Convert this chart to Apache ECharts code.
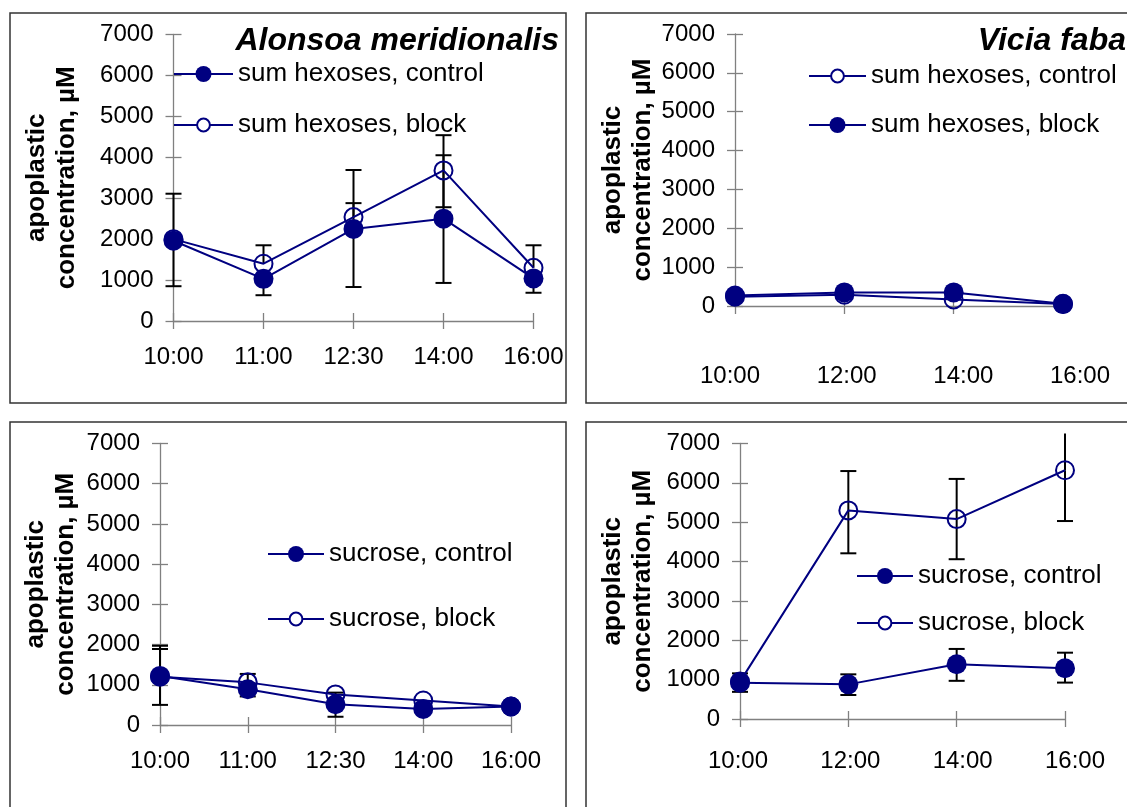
<!DOCTYPE html>
<html>
<head>
<meta charset="utf-8">
<title>Apoplastic sugar concentrations</title>
<script src="https://cdn.jsdelivr.net/npm/echarts@6/dist/echarts.min.js"></script>
<style>
  html, body { margin: 0; padding: 0; background: #fff; overflow: hidden; width: 1127px; height: 807px; }
  .chart { position: absolute; left: 0; top: 0; width: 1127px; height: 807px; }
</style>
</head>
<body>
<div id="p1" class="chart"></div>
<div id="p2" class="chart"></div>
<div id="p3" class="chart"></div>
<div id="p4" class="chart"></div>
<script>
// ---- data -------------------------------------------------------------
const timesAlonsoa = ['10:00', '11:00', '12:30', '14:00', '16:00'];
const timesVicia = ['10:00', '12:00', '14:00', '16:00'];
const yTicks = [0, 1000, 2000, 3000, 4000, 5000, 6000, 7000];

// Alonsoa meridionalis, sum hexoses (µM)
const amHexControl = [1960, 1030, 2250, 2500, 1040];
const amHexControlPlus = [1150, 0, 1440, 1550, 0];
const amHexControlMinus = [1110, 400, 1420, 1570, 350];
const amHexBlock = [2000, 1400, 2540, 3680, 1300];
const amHexBlockPlus = [0, 450, 340, 860, 550];
const amHexBlockMinus = [0, 0, 0, 900, 0];

// Vicia faba, sum hexoses (µM)
const vfHexControl = [240, 290, 170, 50];
const vfHexBlock = [270, 350, 350, 55];

// Alonsoa meridionalis, sucrose (µM)
const amSucControl = [1220, 890, 515, 400, 460];
const amSucControlPlus = [750, 0, 290, 0, 0];
const amSucControlMinus = [720, 180, 310, 0, 0];
const amSucBlock = [1200, 1060, 760, 610, 460];
const amSucBlockPlus = [690, 210, 0, 0, 0];
const amSucBlockMinus = [0, 0, 0, 0, 0];

// Vicia faba, sucrose (µM)
const vfSucControl = [920, 880, 1390, 1290];
const vfSucControlPlus = [240, 255, 390, 395];
const vfSucControlMinus = [230, 270, 420, 365];
const vfSucBlock = [950, 5300, 5080, 6320];
const vfSucBlockPlus = [0, 1000, 1020, 1290];
const vfSucBlockMinus = [0, 1090, 1020, 1290];

// ---- styling ------------------------------------------------------------
const NAVY = '#000080';
const FONT = '"Liberation Sans", Arial, Helvetica, sans-serif';
const AXIS_GRAY = '#808080';
const Y_NAME = 'apoplastic\nconcentration, µM';
const ROW_H = 28;

// cfg.labelSpan (optional): a separate, wider strip that carries the time labels
function makeAxes(cfg) {
  const tickStyle = { color: AXIS_GRAY, width: 1.3 };
  const labelStyle = { show: true, interval: 0, margin: cfg.labelMargin, fontSize: 24, fontFamily: FONT, color: '#000' };
  const ownLabels = !cfg.labelSpan;
  const xBase = {
    type: 'category', data: cfg.cats, boundaryGap: false, position: 'bottom',
    gridIndex: 0, splitLine: { show: false }
  };
  const yBase = {
    type: 'value', position: 'left', gridIndex: 0,
    min: yTicks[0], max: yTicks[yTicks.length - 1], interval: yTicks[1] - yTicks[0],
    splitLine: { show: false }
  };
  const xAxis = [
    Object.assign({}, xBase, {
      axisLine: { show: true, onZero: false, lineStyle: tickStyle },
      axisTick: { show: true, length: 8, lineStyle: tickStyle },
      axisLabel: ownLabels ? labelStyle : { show: false }
    }),
    Object.assign({}, xBase, {
      axisLine: { show: false },
      axisTick: { show: true, inside: true, length: 8, lineStyle: tickStyle },
      axisLabel: { show: false }
    })
  ];
  const yAxis = [
    Object.assign({}, yBase, {
      axisLine: { show: true, onZero: false, lineStyle: tickStyle },
      axisTick: { show: true, length: 8, lineStyle: tickStyle },
      axisLabel: { show: true, margin: 20, fontSize: 24, fontFamily: FONT, color: '#000',
                   formatter: v => String(v) },
      name: Y_NAME, nameLocation: 'middle', nameRotate: 90, nameGap: cfg.nameGap,
      nameTextStyle: { fontSize: 26, fontWeight: 'bold', fontFamily: FONT, color: '#000', lineHeight: 30 }
    }),
    Object.assign({}, yBase, {
      axisLine: { show: false },
      axisTick: { show: true, inside: true, length: 8, lineStyle: tickStyle },
      axisLabel: { show: false }
    })
  ];
  const grids = [Object.assign({ containLabel: false, outerBoundsMode: 'none' }, cfg.grid)];
  if (!ownLabels) {
    grids.push(Object.assign({ containLabel: false, outerBoundsMode: 'none' }, cfg.grid, cfg.labelSpan));
    xAxis.push(Object.assign({}, xBase, {
      gridIndex: 1, axisLine: { show: false }, axisTick: { show: false }, axisLabel: labelStyle
    }));
    yAxis.push(Object.assign({}, yBase, {
      gridIndex: 1, axisLine: { show: false }, axisTick: { show: false }, axisLabel: { show: false }
    }));
  }
  return { grids: grids, xAxis: xAxis, yAxis: yAxis };
}

function lineSeries(name, values, filled) {
  return {
    type: 'line', name: name, data: values, xAxisIndex: 0, yAxisIndex: 0,
    symbol: 'circle', symbolSize: filled ? 20 : 18, showAllSymbol: true,
    lineStyle: { color: NAVY, width: 2 },
    itemStyle: filled
      ? { color: NAVY }
      : { color: 'rgba(255,255,255,0)', borderColor: NAVY, borderWidth: 2 },
    z: filled ? 4 : 3, silent: true, animation: false
  };
}

// vertical error bars with caps; an end running past the plot top is cut without a cap
function errorSeries(values, plus, minus) {
  const data = values.map((v, i) => [i, v, v + plus[i], v - minus[i]]);
  const style = { stroke: '#000', lineWidth: 2 };
  return {
    type: 'custom', xAxisIndex: 0, yAxisIndex: 0, z: 2, clip: false, silent: true, animation: false,
    data: data, encode: { x: 0, y: 1 },
    renderItem: function (params, api) {
      const i = api.value(0), v = api.value(1), hi = api.value(2), lo = api.value(3);
      const c = api.coord([i, v]);
      const top = params.coordSys.y - 10;
      const half = 8;
      const children = [];
      [hi, lo].forEach(function (end) {
        if (end === v) return;
        let y = api.coord([i, end])[1];
        let cap = true;
        if (y < top) { y = top; cap = false; }
        children.push({ type: 'line', shape: { x1: c[0], y1: c[1], x2: c[0], y2: y }, style: style });
        if (cap) children.push({ type: 'line', shape: { x1: c[0] - half, y1: y, x2: c[0] + half, y2: y }, style: style });
      });
      return { type: 'group', children: children };
    }
  };
}

function legendRow(name, left, centerY, itemWidth, itemHeight, open) {
  const lg = {
    show: true, data: [name], left: left, top: centerY - ROW_H / 2, orient: 'horizontal',
    padding: 0, itemWidth: itemWidth, itemHeight: itemHeight, selectedMode: false,
    textStyle: { fontSize: 26, fontFamily: FONT, color: '#000', lineHeight: ROW_H }
  };
  if (open) lg.itemStyle = { color: '#fff' };
  return lg;
}

function frame(x, y, w, h) {
  return { type: 'rect', shape: { x: x, y: y, width: w, height: h }, z: -10, silent: true,
           style: { fill: 'rgba(0,0,0,0)', stroke: '#333', lineWidth: 1.5 } };
}

function title(text, right, y) {
  return { type: 'text', x: right, y: y, silent: true,
           style: { text: text, align: 'right', verticalAlign: 'middle', fill: '#000',
                    fontSize: 32, fontWeight: 'bold', fontStyle: 'italic', fontFamily: FONT } };
}

function build(el, cfg) {
  const chart = echarts.init(document.getElementById(el), null, { renderer: 'canvas' });
  const axes = makeAxes(cfg);
  chart.setOption({
    animation: false,
    backgroundColor: 'rgba(0,0,0,0)',
    textStyle: { fontFamily: FONT },
    grid: axes.grids,
    xAxis: axes.xAxis,
    yAxis: axes.yAxis,
    legend: cfg.legends,
    graphic: { elements: cfg.graphics },
    series: cfg.series
  });
}

// Alonsoa meridionalis – hexoses
build('p1', {
  cats: timesAlonsoa, labelMargin: 24, nameGap: 92,
  grid: { left: 173.5, top: 34.5, width: 360, height: 286.5 },
  legends: [
    legendRow('sum hexoses, control', 173, 74, 59, 20, false),
    legendRow('sum hexoses, block', 173, 125, 59, 16, true)
  ],
  graphics: [frame(10, 13, 556, 390), title('Alonsoa meridionalis', 559, 41)],
  series: [
    errorSeries(amHexBlock, amHexBlockPlus, amHexBlockMinus),
    errorSeries(amHexControl, amHexControlPlus, amHexControlMinus),
    lineSeries('sum hexoses, block', amHexBlock, false),
    lineSeries('sum hexoses, control', amHexControl, true)
  ]
});

// Vicia faba – hexoses
build('p2', {
  cats: timesVicia, labelMargin: 58, nameGap: 77,
  grid: { left: 735, top: 34, width: 328, height: 272 },
  labelSpan: { left: 730, width: 350 },
  legends: [
    legendRow('sum hexoses, control', 808, 76, 57, 16, true),
    legendRow('sum hexoses, block', 808, 125, 57, 20, false)
  ],
  graphics: [frame(586, 13, 600, 390), title('Vicia faba', 1126, 41)],
  series: [
    lineSeries('sum hexoses, control', vfHexControl, false),
    lineSeries('sum hexoses, block', vfHexBlock, true)
  ]
});

// Alonsoa meridionalis – sucrose
build('p3', {
  cats: timesAlonsoa, labelMargin: 24, nameGap: 79,
  grid: { left: 160, top: 443.5, width: 351, height: 281.5 },
  legends: [
    legendRow('sucrose, control', 267, 554, 56, 20, false),
    legendRow('sucrose, block', 267, 619, 56, 16, true)
  ],
  graphics: [frame(10, 422, 556, 400)],
  series: [
    errorSeries(amSucBlock, amSucBlockPlus, amSucBlockMinus),
    errorSeries(amSucControl, amSucControlPlus, amSucControlMinus),
    lineSeries('sucrose, block', amSucBlock, false),
    lineSeries('sucrose, control', amSucControl, true)
  ]
});

// Vicia faba – sucrose
build('p4', {
  cats: timesVicia, labelMargin: 30, nameGap: 82,
  grid: { left: 740, top: 443.5, width: 325, height: 275.5 },
  labelSpan: { left: 738, width: 337 },
  legends: [
    legendRow('sucrose, control', 856, 576, 56, 20, false),
    legendRow('sucrose, block', 856, 623, 56, 16, true)
  ],
  graphics: [frame(586, 422, 600, 400)],
  series: [
    errorSeries(vfSucBlock, vfSucBlockPlus, vfSucBlockMinus),
    errorSeries(vfSucControl, vfSucControlPlus, vfSucControlMinus),
    lineSeries('sucrose, block', vfSucBlock, false),
    lineSeries('sucrose, control', vfSucControl, true)
  ]
});
</script>
</body>
</html>
